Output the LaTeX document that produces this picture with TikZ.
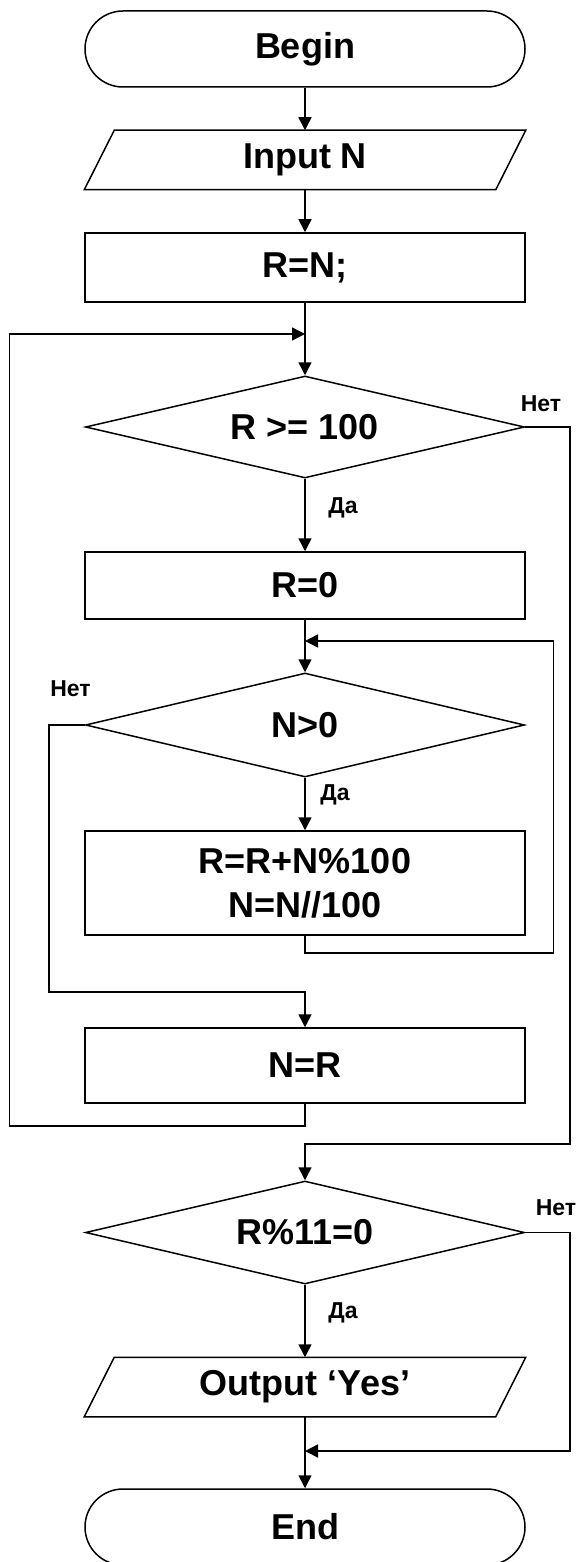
\documentclass[tikz,border=0pt]{standalone}
\usepackage{fontspec}
\setmainfont{Liberation Sans}
\usetikzlibrary{arrows.meta,shapes.geometric}
\begin{document}
\begin{tikzpicture}[x=1pt,y=-1pt,
  line width=1.5pt,
  every node/.style={font=\bfseries\fontsize{36}{44}\selectfont},
  term/.style={draw,rectangle,rounded corners=38pt,minimum width=440pt,minimum height=76pt,inner sep=0pt},
  procbox/.style={draw,rectangle,minimum width=440pt,inner sep=0pt,align=center},
  iobox/.style={rectangle,minimum width=410pt,minimum height=58pt,inner sep=0pt},
  decision/.style={draw,diamond,minimum width=439pt,inner sep=0pt,shape aspect=4.3},
  lbl/.style={font=\bfseries\fontsize{23}{27}\selectfont,inner sep=0pt},
  arr/.style={-{Triangle[length=13pt,width=13pt]}}]
\useasboundingbox (0,0) rectangle (582,1562);
\fill[white] (0,0) rectangle (582,1562);
\begin{scope}
\clip (0,0) rectangle (582,1562);
\node[term] (begin) at (305,49) {Begin};
\node[iobox] (inp) at (305,160) {Input N};
\draw ([xshift=15pt]inp.north west) -- ([xshift=15pt]inp.north east) -- ([xshift=-15pt]inp.south east) -- ([xshift=-15pt]inp.south west) -- cycle;
\node[procbox,minimum height=69pt] (rn) at (305,267.5) {R=N;};
\node[decision,minimum height=102pt] (d1) at (305,427) {R >= 100};
\node[procbox,minimum height=67pt] (r0) at (305,585.5) {R=0};
\node[decision,minimum height=104pt] (d2) at (305,725) {N>0};
\node[procbox,minimum height=104pt] (body) at (305,883) {R=R+N\%100\\N=N//100};
\node[procbox,minimum height=75pt] (nr) at (305,1065.5) {N=R};
\node[decision,minimum height=103pt] (d3) at (305,1232.5) {R\%11=0};
\node[iobox] (out) at (305,1387) {Output ‘Yes’};
\draw ([xshift=15pt]out.north west) -- ([xshift=15pt]out.north east) -- ([xshift=-15pt]out.south east) -- ([xshift=-15pt]out.south west) -- cycle;
\node[term] (end) at (305,1527) {End};

\node[lbl] (n1) at (541,404) {Нет};
\node[lbl] (y1) at (343,508) {Да};
\node[lbl] (n2) at (70.5,689) {Нет};
\node[lbl] (y2) at (335,795) {Да};
\node[lbl] (n3) at (556,1208) {Нет};
\node[lbl] (y3) at (343,1313) {Да};

\coordinate (j1) at (305,334);
\coordinate (lt) at (9.3,334);
\coordinate (lb) at (9.3,1126);
\coordinate (j2) at (305,641);
\coordinate (lt2) at (553.3,641);
\coordinate (lb2) at (553.3,953);
\coordinate (l2b) at (49,992);
\coordinate (m2) at (305,992);
\coordinate (r1b) at (570,1144);
\coordinate (m3) at (305,1144);
\coordinate (r3b) at (570,1451);
\coordinate (j3) at (305,1451);

\draw[arr] (begin) -- (inp);
\draw[arr] (inp) -- (rn);
\draw[arr] (rn) -- (d1);
\draw[arr] (d1) -- (r0);
\draw[arr] (r0) -- (d2);
\draw[arr] (d2) -- (body);
\draw[arr] (body.south) |- (lb2) -- (lt2) -- (j2);
\draw[arr] (d2.west) -| (l2b) -- (m2) -- (nr.north);
\draw[arr] (nr.south) |- (lb) -- (lt) -- (j1);
\draw[arr] (d1.east) -| (r1b) -- (m3) -- (d3.north);
\draw[arr] (d3) -- (out);
\draw[arr] (d3.east) -| (r3b) -- (j3);
\draw[arr] (out) -- (end);
\end{scope}
\end{tikzpicture}
\end{document}
